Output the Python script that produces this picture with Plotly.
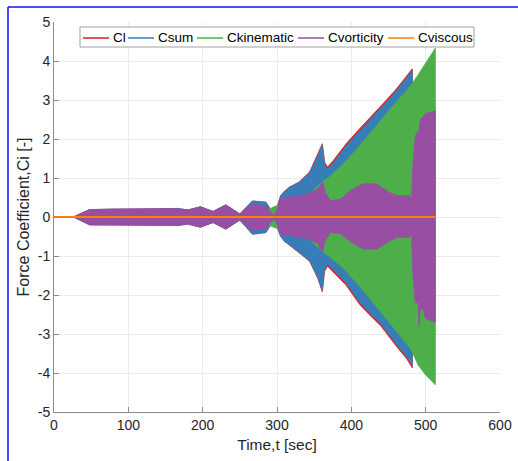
import plotly.graph_objects as go

# Envelope (upper / lower bound) of each oscillating force coefficient vs time [s]
t_cl = [0, 26, 35, 48, 80, 120, 150, 165, 180, 197, 214, 231, 250, 267, 285, 296, 300, 305,
        310, 317, 330, 344, 355, 361, 364, 368, 375, 393, 411, 424, 440, 460, 475, 482]
hi_cl = [0, 0, 0.08, 0.19, 0.2, 0.2, 0.21, 0.22, 0.18, 0.26, 0.14, 0.31, 0.08, 0.41, 0.38, 0.06,
         0.25, 0.55, 0.66, 0.77, 0.9, 1.16, 1.6, 1.88, 1.41, 1.28, 1.43, 1.88, 2.26, 2.52, 2.85,
         3.27, 3.64, 3.8]
lo_cl = [0, 0, -0.08, -0.2, -0.21, -0.21, -0.21, -0.22, -0.18, -0.26, -0.14, -0.31, -0.08, -0.44,
         -0.4, -0.06, -0.25, -0.5, -0.62, -0.73, -0.92, -1.14, -1.58, -1.92, -1.39, -1.26, -1.38,
         -1.75, -2.24, -2.5, -2.8, -3.3, -3.65, -3.87]

t_sum = [0, 26, 35, 48, 80, 120, 150, 165, 180, 197, 214, 231, 250, 267, 285, 296, 300, 305,
         310, 317, 330, 344, 355, 361, 364, 368, 375, 393, 411, 424, 440, 460, 475, 482]
hi_sum = [0, 0, 0.08, 0.19, 0.2, 0.2, 0.21, 0.22, 0.18, 0.26, 0.14, 0.31, 0.08, 0.41, 0.38, 0.06,
          0.25, 0.55, 0.66, 0.76, 0.89, 1.14, 1.57, 1.85, 1.37, 1.23, 1.38, 1.83, 2.21, 2.47, 2.8,
          3.22, 3.6, 3.75]
lo_sum = [0, 0, -0.08, -0.2, -0.21, -0.21, -0.21, -0.22, -0.18, -0.26, -0.14, -0.31, -0.08, -0.44,
          -0.4, -0.06, -0.25, -0.5, -0.62, -0.72, -0.91, -1.12, -1.55, -1.89, -1.35, -1.21, -1.33,
          -1.7, -2.19, -2.45, -2.75, -3.25, -3.6, -3.82]

t_kin = [0, 260, 280, 290, 298, 305, 315, 330, 345, 362, 370, 390, 410, 430, 450, 470, 481,
         490, 500, 513]
hi_kin = [0, 0, 0.12, 0.22, 0.28, 0.3, 0.36, 0.48, 0.62, 0.92, 1.02, 1.38, 1.8, 2.25, 2.72, 3.15,
          3.4, 3.65, 3.95, 4.33]
lo_kin = [0, 0, -0.12, -0.22, -0.28, -0.3, -0.36, -0.46, -0.6, -0.9, -1.0, -1.33, -1.75, -2.22,
          -2.68, -3.15, -3.42, -3.8, -4.05, -4.3]

t_vor = [0, 26, 35, 48, 80, 120, 150, 165, 180, 197, 214, 231, 250, 267, 285, 296, 300, 305,
         320, 340, 355, 361, 365, 372, 385, 400, 416, 434, 451, 462, 478, 481, 483, 486, 490,
         491, 493, 497, 500, 513]
hi_vor = [0, 0, 0.08, 0.19, 0.2, 0.2, 0.21, 0.22, 0.18, 0.26, 0.14, 0.31, 0.07, 0.33, 0.28, 0.04,
          0.2, 0.48, 0.52, 0.58, 0.72, 0.9, 0.62, 0.42, 0.45, 0.7, 0.85, 0.85, 0.63, 0.55, 0.55,
          0.45, 1.4, 2.08, 2.2, 2.2, 2.5, 2.6, 2.65, 2.72]
lo_vor = [0, 0, -0.08, -0.2, -0.21, -0.21, -0.21, -0.22, -0.18, -0.26, -0.14, -0.31, -0.07, -0.35,
          -0.3, -0.04, -0.2, -0.44, -0.48, -0.55, -0.68, -0.91, -0.6, -0.4, -0.42, -0.65, -0.82,
          -0.82, -0.62, -0.52, -0.52, -0.45, -1.5, -2.2, -2.2, -2.8, -2.3, -2.4, -2.6, -2.7]

t_visc = [0, 513]
c_visc = [0, 0]

names = ["Cl", "Csum", "Ckinematic", "Cvorticity", "Cviscous"]
colors = ["#e41a1c", "#377eb8", "#4daf4a", "#984ea3", "#ff7f00"]

x_ticks = [0, 100, 200, 300, 400, 500, 600]
y_ticks = [-5, -4, -3, -2, -1, 0, 1, 2, 3, 4, 5]

W, H = 518, 461
ML, MR, MT, MB = 54, 18, 22, 49
PW, PH = W - ML - MR, H - MT - MB


def px_x(p):
    return (p - ML) / PW


def px_y(p):
    return (H - MB - p) / PH


fig = go.Figure()


def band(t, hi, lo, color, name):
    fig.add_trace(go.Scatter(
        x=list(t) + list(t)[::-1], y=list(hi) + list(lo)[::-1], name=name,
        mode="lines", fill="toself", fillcolor=color,
        line=dict(color=color, width=0.8), showlegend=False, hoverinfo="skip"))


band(t_cl, hi_cl, lo_cl, colors[0], names[0])
band(t_sum, hi_sum, lo_sum, colors[1], names[1])
band(t_kin, hi_kin, lo_kin, colors[2], names[2])
band(t_vor, hi_vor, lo_vor, colors[3], names[3])
fig.add_trace(go.Scatter(x=t_visc, y=c_visc, mode="lines", name=names[4],
                         line=dict(color=colors[4], width=2), showlegend=False))

axis_common = dict(
    showgrid=True, gridcolor="#ebebeb", gridwidth=1, zeroline=False,
    showline=True, linecolor="#8c8c8c", linewidth=1,
    ticks="inside", ticklen=5, tickcolor="#8c8c8c", automargin=False,
    tickfont=dict(family="Liberation Sans, Arial", size=14, color="#262626"),
)

# boxed horizontal legend across the top of the axes
shapes = [dict(type="rect", xref="paper", yref="paper",
               x0=px_x(80), x1=px_x(474), y0=px_y(47), y1=px_y(27),
               fillcolor="white", line=dict(color="#a0a0a0", width=1))]
annotations = []
sample_left = [83, 128, 197, 298, 388]
for n, c, s in zip(names, colors, sample_left):
    shapes.append(dict(type="line", xref="paper", yref="paper",
                       x0=px_x(s), x1=px_x(s + 26), y0=px_y(38), y1=px_y(38),
                       line=dict(color=c, width=1.5)))
    annotations.append(dict(text=n, xref="paper", yref="paper", x=px_x(s + 28), y=px_y(38),
                            xanchor="left", yanchor="middle", showarrow=False,
                            font=dict(size=13.5, color="#000000")))

# frame lines along the left and top of the figure
shapes += [
    dict(type="line", xref="paper", yref="paper", x0=px_x(8), x1=px_x(8),
         y0=px_y(470), y1=px_y(7), line=dict(color="#1010ff", width=1.5)),
    dict(type="line", xref="paper", yref="paper", x0=px_x(8), x1=px_x(530),
         y0=px_y(7), y1=px_y(7), line=dict(color="#1010ff", width=1.5)),
]

fig.update_layout(
    width=W, height=H,
    margin=dict(l=ML, r=MR, t=MT, b=MB),
    paper_bgcolor="white", plot_bgcolor="white",
    font=dict(family="Liberation Sans, Arial", color="#262626"),
    showlegend=False,
    xaxis=dict(range=[0, 600], tickvals=x_ticks, ticktext=[str(v) for v in x_ticks],
               title=dict(text="Time,t [sec]", font=dict(size=15.5), standoff=7),
               **axis_common),
    yaxis=dict(range=[-5, 5], tickvals=y_ticks, ticktext=[str(v) for v in y_ticks],
               title=dict(text="Force Coefficient,Ci [-]", font=dict(size=16), standoff=4),
               **axis_common),
    shapes=shapes,
    annotations=annotations,
)

fig.write_html("out.html")
